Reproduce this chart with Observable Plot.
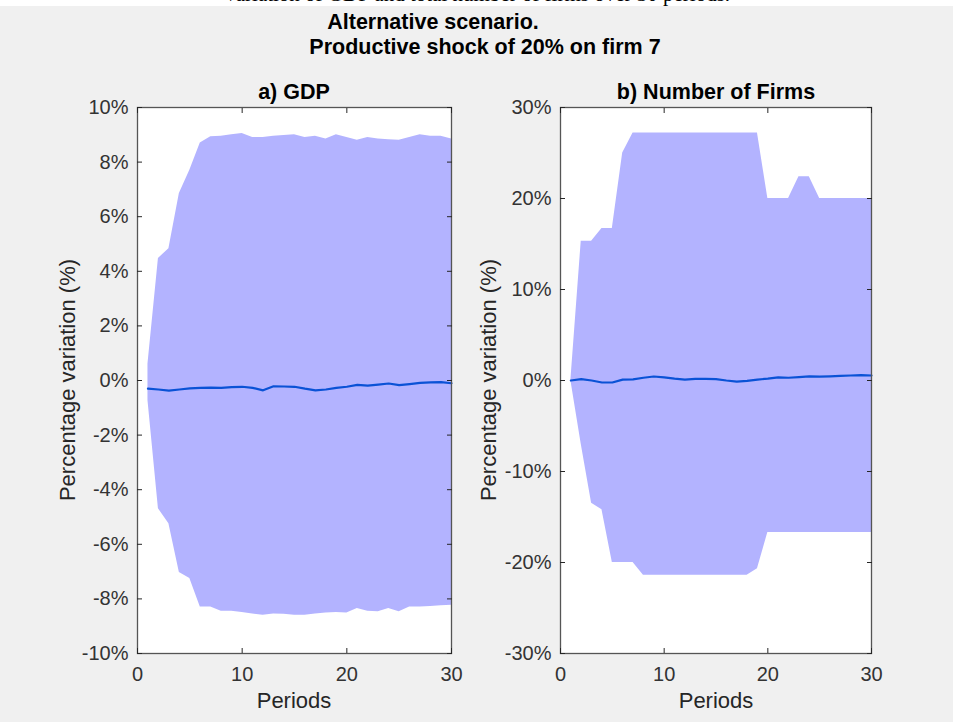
<!DOCTYPE html>
<html>
<head>
<meta charset="utf-8">
<script src="https://cdn.jsdelivr.net/npm/d3@7"></script>
<script src="https://cdn.jsdelivr.net/npm/@observablehq/plot@0.6"></script>
<style>
  html, body { margin: 0; padding: 0; background: #ffffff; }
  #fig { position: relative; width: 953px; height: 722px; background: #f0f0f0; overflow: hidden; font-family: "Liberation Sans", Arial, sans-serif; color: #262626; }
  #topstrip { position: absolute; left: 0; top: 0; width: 953px; height: 6px; background: #ffffff; overflow: hidden; }
  #topstrip span { position: absolute; left: 0; width: 953px; text-align: center; top: -18px; font-family: "Liberation Serif", "Times New Roman", serif; font-size: 21px; color: #000; white-space: nowrap; }
  .abs { position: absolute; white-space: nowrap; }
  .ttl { font-weight: bold; font-size: 21.5px; color: #000; transform: translateX(-50%); line-height: 1; }
  .xlab { font-size: 22px; color: #262626; transform: translateX(-50%); line-height: 1; }
  .ylab { font-size: 22px; color: #262626; transform: translate(-50%, -50%) rotate(-90deg); line-height: 1; }
  .panel { position: absolute; top: 0; }
</style>
</head>
<body>
<div id="fig">
  <div id="topstrip"><span>Variation of GDP and total number of firms over 30 periods.</span></div>
  <div class="abs ttl" style="left:433px; top:12px;">Alternative scenario.</div>
  <div class="abs ttl" style="left:485px; top:37px;">Productive shock of 20% on firm 7</div>
  <div class="abs ttl" style="left:294px; top:82px;">a) GDP</div>
  <div class="abs ttl" style="left:716px; top:82px;">b) Number of Firms</div>
  <div class="abs xlab" style="left:294px; top:690px;">Periods</div>
  <div class="abs xlab" style="left:716px; top:690px;">Periods</div>
  <div class="abs ylab" style="left:68px; top:380px;">Percentage variation (%)</div>
  <div class="abs ylab" style="left:489px; top:380px;">Percentage variation (%)</div>
  <div id="left" class="panel" style="left:0px;"></div>
  <div id="right" class="panel" style="left:476px;"></div>
</div>
<script>
// ---- data ----
const periods = [1,2,3,4,5,6,7,8,9,10,11,12,13,14,15,16,17,18,19,20,21,22,23,24,25,26,27,28,29,30];

const gdpUpper = [0.6,4.47,4.83,6.85,7.7,8.7,8.93,8.95,9.0,9.05,8.9,8.9,8.95,8.97,9.0,8.9,8.95,8.85,9.0,8.9,8.8,8.9,8.85,8.82,8.8,8.9,9.0,8.95,8.95,8.85];
const gdpLower = [-0.73,-4.7,-5.25,-7.03,-7.25,-8.3,-8.3,-8.45,-8.45,-8.5,-8.55,-8.6,-8.55,-8.56,-8.6,-8.6,-8.55,-8.52,-8.5,-8.52,-8.35,-8.45,-8.47,-8.35,-8.47,-8.3,-8.3,-8.28,-8.25,-8.23];
const gdpMean = [-0.30,-0.33,-0.37,-0.33,-0.29,-0.27,-0.26,-0.27,-0.24,-0.23,-0.27,-0.36,-0.21,-0.22,-0.23,-0.30,-0.36,-0.33,-0.27,-0.23,-0.16,-0.19,-0.15,-0.11,-0.17,-0.13,-0.09,-0.07,-0.06,-0.10];

const firmsUpper = [0,15.3,15.3,16.7,16.7,25.0,27.2,27.2,27.2,27.2,27.2,27.2,27.2,27.2,27.2,27.2,27.2,27.2,27.2,20.0,20.0,20.0,22.4,22.4,20.0,20.0,20.0,20.0,20.0,20.0];
const firmsLower = [0,-7.0,-13.5,-14.2,-20.0,-20.0,-20.0,-21.4,-21.4,-21.4,-21.4,-21.4,-21.4,-21.4,-21.4,-21.4,-21.4,-21.4,-20.7,-16.7,-16.7,-16.7,-16.7,-16.7,-16.7,-16.7,-16.7,-16.7,-16.7,-16.7];
const firmsMean = [0,0.15,0.0,-0.22,-0.22,0.1,0.12,0.3,0.44,0.35,0.2,0.1,0.18,0.18,0.15,0.0,-0.12,-0.05,0.1,0.2,0.35,0.3,0.38,0.45,0.42,0.45,0.5,0.55,0.58,0.55];

const xTicks = [0,10,20,30];
const yTicksGdp = [-10,-8,-6,-4,-2,0,2,4,6,8,10];
const yTicksFirms = [-30,-20,-10,0,10,20,30];

// ---- build ----
function panel(upper, lower, mean, yDomain, yTicks, w, mLeft, mRight) {
  const data = periods.map((p, i) => ({p, hi: upper[i], lo: lower[i], m: mean[i]}));
  const fmt = d => d + "%";
  return Plot.plot({
    width: w,
    height: 722,
    marginLeft: mLeft,
    marginRight: mRight,
    marginTop: 107,
    marginBottom: 69,
    style: {background: "transparent", fontFamily: "'Liberation Sans', Arial, sans-serif", fontSize: "20px", color: "#333333", overflow: "visible"},
    x: {domain: [0, 30]},
    y: {domain: yDomain},
    marks: [
      Plot.frame({fill: "#ffffff"}),
      Plot.areaY(data, {x: "p", y1: "lo", y2: "hi", fill: "#b3b3ff", fillOpacity: 1}),
      Plot.lineY(data, {x: "p", y: "m", stroke: "#0a52d6", strokeWidth: 2.2}),
      Plot.frame({stroke: "#555555", strokeWidth: 1.3}),
      Plot.axisY(yTicks, {anchor: "left", tickSize: 0, tickPadding: 9, tickFormat: fmt, label: null}),
      Plot.axisY(yTicks, {anchor: "left", tickSize: -5, stroke: "#262626", tickFormat: () => "", label: null}),
      Plot.axisY(yTicks, {anchor: "right", tickSize: -5, stroke: "#262626", tickFormat: () => "", label: null}),
      Plot.axisX(xTicks, {anchor: "bottom", tickSize: 0, tickPadding: 13, tickFormat: d => String(d), label: null}),
      Plot.axisX(xTicks, {anchor: "bottom", tickSize: -5, stroke: "#262626", tickFormat: () => "", label: null}),
      Plot.axisX(xTicks, {anchor: "top", tickSize: -5, stroke: "#262626", tickFormat: () => "", label: null})
    ]
  });
}

document.getElementById("left").appendChild(panel(gdpUpper, gdpLower, gdpMean, [-10, 10], yTicksGdp, 476, 137, 25));
document.getElementById("right").appendChild(panel(firmsUpper, firmsLower, firmsMean, [-30, 30], yTicksFirms, 477, 84, 82));
</script>
</body>
</html>
